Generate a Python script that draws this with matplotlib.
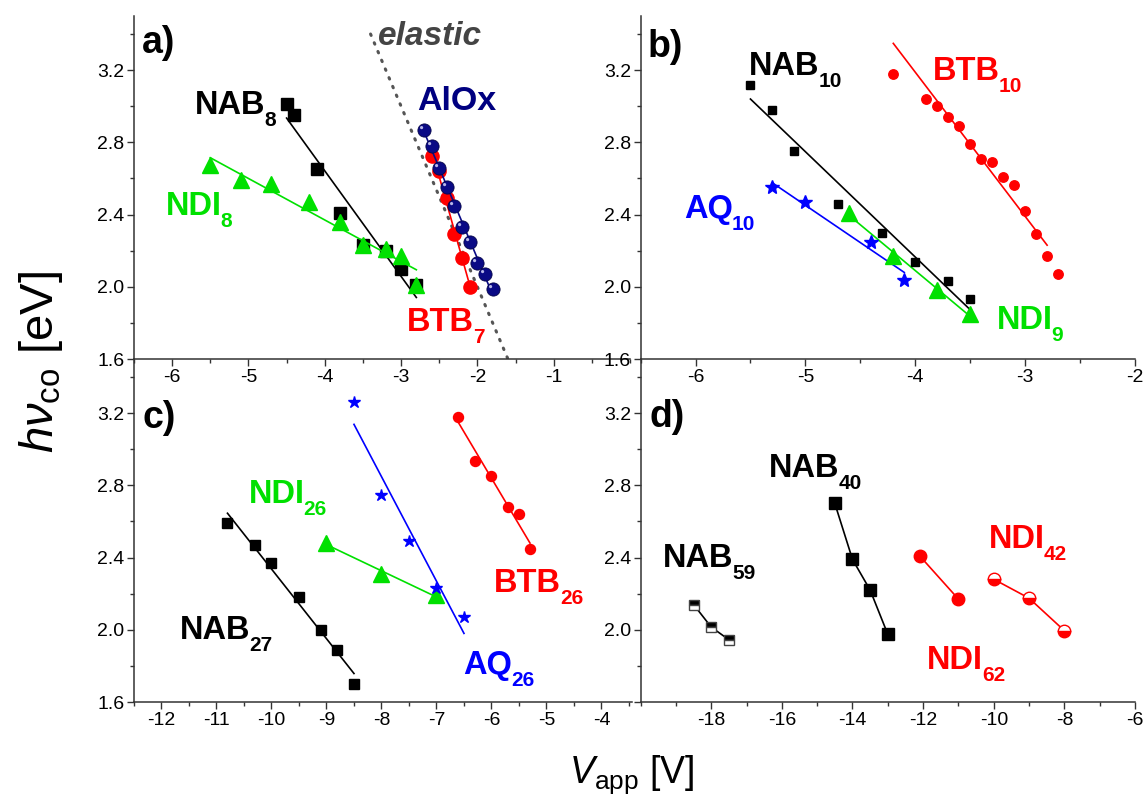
import numpy as np
import matplotlib
matplotlib.use("Agg")
import matplotlib.pyplot as plt
from matplotlib.path import Path
from matplotlib.ticker import MultipleLocator

# ============================================================
# Fonts: Arial-like text everywhere.
# ============================================================

plt.rcParams["font.family"] = ["Liberation Sans", "DejaVu Sans"]
plt.rcParams["mathtext.fontset"] = "custom"
plt.rcParams["mathtext.rm"] = "Liberation Sans"
plt.rcParams["mathtext.it"] = "Liberation Sans:italic"
plt.rcParams["mathtext.bf"] = "Liberation Sans:bold"

# ============================================================
# Cut-off photon energy vs applied bias, per junction.
# ============================================================

# a) short molecules + bare AlOx
nab8_v = [-4.5, -4.4, -4.1, -3.8, -3.5, -3.2, -3.0, -2.8]
nab8_e = [3.01, 2.95, 2.65, 2.41, 2.23, 2.20, 2.10, 2.01]
ndi8_v = [-5.5, -5.1, -4.7, -4.2, -3.8, -3.5, -3.2, -3.0, -2.8]
ndi8_e = [2.675, 2.59, 2.57, 2.47, 2.36, 2.23, 2.21, 2.17, 2.01]
alox_v = [-2.7, -2.6, -2.5, -2.4, -2.3, -2.2, -2.1, -2.0, -1.9, -1.8]
alox_e = [2.87, 2.78, 2.66, 2.55, 2.45, 2.33, 2.25, 2.13, 2.07, 1.99]
btb7_v = [-2.6, -2.5, -2.4, -2.3, -2.2, -2.1]
btb7_e = [2.725, 2.64, 2.49, 2.29, 2.16, 2.00]
elastic_v = [-3.4, -1.6]

# b) ~10 nm layers
nab10_v = [-5.5, -5.3, -5.1, -4.7, -4.3, -4.0, -3.7, -3.5]
nab10_e = [3.12, 2.98, 2.75, 2.46, 2.30, 2.14, 2.03, 1.93]
btb10_v = [-4.2, -3.9, -3.8, -3.7, -3.6, -3.5, -3.4, -3.3, -3.2, -3.1,
           -3.0, -2.9, -2.8, -2.7]
btb10_e = [3.18, 3.04, 3.00, 2.94, 2.89, 2.79, 2.71, 2.69, 2.61, 2.565,
           2.42, 2.29, 2.17, 2.07]
aq10_v = [-5.3, -5.0, -4.4, -4.1]
aq10_e = [2.55, 2.47, 2.25, 2.04]
ndi9_v = [-4.6, -4.2, -3.8, -3.5]
ndi9_e = [2.41, 2.17, 1.98, 1.85]

# c) ~26 nm layers
nab27_v = [-10.8, -10.3, -10.0, -9.5, -9.1, -8.8, -8.5]
nab27_e = [2.59, 2.47, 2.37, 2.18, 2.00, 1.89, 1.70]
ndi26_v = [-9.0, -8.0, -7.0]
ndi26_e = [2.48, 2.31, 2.19]
aq26_v = [-8.5, -8.0, -7.5, -7.0, -6.5]
aq26_e = [3.26, 2.745, 2.49, 2.23, 2.07]
btb26_v = [-6.6, -6.3, -6.0, -5.7, -5.5, -5.3]
btb26_e = [3.18, 2.935, 2.85, 2.68, 2.64, 2.445]

# d) thick layers
nab59_v = [-18.5, -18.0, -17.5]
nab59_e = [2.14, 2.015, 1.945]
nab40_v = [-14.5, -14.0, -13.5, -13.0]
nab40_e = [2.70, 2.39, 2.22, 1.975]
ndi62_v = [-12.1, -11.0]
ndi62_e = [2.41, 2.17]
ndi42_v = [-10.0, -9.0, -8.0]
ndi42_e = [2.28, 2.175, 1.995]

GREEN = "#00e000"
RED = "#ff0000"
BLUE = "#0000ff"
NAVY = "#0a0a85"


# ============================================================
# Helpers.
# ============================================================

def series(ax, v, e, color, marker, ms, line="fit", fit_from=0, span=None,
           lw=1.2, z=3, **kw):
    v = np.asarray(v, dtype=float)
    e = np.asarray(e, dtype=float)
    if line == "fit":
        k, b = np.polyfit(v[fit_from:], e[fit_from:], 1)
        lo, hi = span if span else (v.min(), v.max())
        xs = np.array([lo, hi])
        ax.plot(xs, k * xs + b, color=color, lw=lw, zorder=z - 1)
    elif line == "connect":
        ax.plot(v, e, color=color, lw=lw, zorder=z - 1)
    ax.plot(v, e, ls="none", marker=marker, ms=ms, color=color, zorder=z, **kw)


def label(ax, x, y, name, sub, color, size=23.5, sub_size=15):
    # name on its baseline, subscript tucked below it
    t = ax.text(x, y, name, color=color, fontsize=size, fontweight="bold",
                ha="left", va="baseline", zorder=5)
    ax.annotate(sub, xy=(1, 0), xycoords=t, xytext=(-1, -3.6),
                textcoords="offset points", color=color, fontsize=sub_size,
                fontweight="bold", ha="left", va="baseline", zorder=5)


def style(ax, xlim, xticks, xminor, ylabels):
    ax.set_facecolor("none")
    ax.set_xlim(*xlim)
    ax.set_ylim(1.6, 3.5)
    ax.set_xticks(xticks)
    ax.set_xticklabels([f"{t:g}" for t in xticks])
    ax.xaxis.set_minor_locator(MultipleLocator(xminor))
    ax.set_yticks([1.6, 2.0, 2.4, 2.8, 3.2])
    ax.set_yticklabels(ylabels)
    ax.yaxis.set_minor_locator(MultipleLocator(0.2))
    for side in ("top", "right"):
        ax.spines[side].set_visible(False)
    for side in ("left", "bottom"):
        ax.spines[side].set_color("#333333")
        ax.spines[side].set_linewidth(1.1)
    ax.tick_params(which="both", direction="out", color="#333333",
                   labelsize=14, pad=2)
    ax.tick_params(which="major", length=5, width=1)
    ax.tick_params(which="minor", length=3, width=1)


def panel_tag(ax, x, y, text):
    ax.text(x, y, text, transform=ax.transAxes, fontsize=27,
            fontweight="bold", ha="left", va="baseline")


# sphere look for the AlOx points: a small highlight in the upper left
glint = Path.circle(center=(-0.22, 0.22), radius=0.12)
glint = Path(np.vstack([glint.vertices, [[0.5, 0.5], [-0.5, -0.5]]]),
             np.concatenate([glint.codes, [Path.MOVETO, Path.MOVETO]]))

yl = ["1.6", "2.0", "2.4", "2.8", "3.2"]

fig = plt.figure(figsize=(11.48, 7.98), dpi=100)
ax_a = fig.add_axes([0.1167, 0.5501, 0.4321, 0.4299])
ax_b = fig.add_axes([0.5580, 0.5501, 0.4307, 0.4299])
ax_c = fig.add_axes([0.1167, 0.1203, 0.4336, 0.4298])
ax_d = fig.add_axes([0.5580, 0.1203, 0.4307, 0.4298])


# ============================================================
# a) NAB8, NDI8, AlOx, BTB7 and the elastic limit.
# ============================================================

ev = np.array(elastic_v)
ax_a.plot(ev, -ev, color="#555555", lw=2.2, ls=(0, (0.5, 2.6)),
          dash_capstyle="round", zorder=1)
ax_a.text(-3.30, 3.338, "elastic", color="#444444", fontsize=24,
          fontstyle="italic", fontweight="bold", ha="left", va="baseline")

series(ax_a, nab8_v, nab8_e, "black", "s", 8.6)
series(ax_a, ndi8_v, ndi8_e, GREEN, "^", 11, z=4)
series(ax_a, btb7_v, btb7_e, RED, "o", 9.5, z=5)
series(ax_a, alox_v, alox_e, NAVY, "o", 9.5, z=6, mec="#05054a", mew=0.6)
ax_a.plot(alox_v, alox_e, ls="none", marker=glint, ms=9.5, mfc="#b8b8e8",
          mec="none", zorder=7)

label(ax_a, -5.70, 2.955, "NAB", "8", "black")
label(ax_a, -6.08, 2.40, "NDI", "8", GREEN)
label(ax_a, -2.92, 1.755, "BTB", "7", RED)
ax_a.text(-2.79, 2.98, "AlOx", color="#000080", fontsize=24.5,
          fontweight="bold", ha="left", va="baseline")

style(ax_a, (-6.5, 0), list(range(-6, 0)), 0.5, yl)
panel_tag(ax_a, 0.016, 0.892, "a)")


# ============================================================
# b) NAB10, BTB10, AQ10, NDI9.
# ============================================================

series(ax_b, nab10_v, nab10_e, "black", "s", 6)
series(ax_b, btb10_v, btb10_e, RED, "o", 6.8, fit_from=1, span=(-4.2, -2.8))
series(ax_b, aq10_v, aq10_e, BLUE, "*", 10)
series(ax_b, ndi9_v, ndi9_e, GREEN, "^", 11)

label(ax_b, -5.51, 3.172, "NAB", "10", "black")
label(ax_b, -3.84, 3.145, "BTB", "10", RED)
label(ax_b, -6.10, 2.38, "AQ", "10", BLUE)
label(ax_b, -3.26, 1.764, "NDI", "9", GREEN)

style(ax_b, (-6.5, -2), list(range(-6, -1)), 0.5, yl)
panel_tag(ax_b, 0.015, 0.881, "b)")


# ============================================================
# c) NAB27, NDI26, AQ26, BTB26.
# ============================================================

series(ax_c, nab27_v, nab27_e, "black", "s", 6.7)
series(ax_c, ndi26_v, ndi26_e, GREEN, "^", 11)
series(ax_c, aq26_v, aq26_e, BLUE, "*", 9)
series(ax_c, btb26_v, btb26_e, RED, "o", 7.2)

label(ax_c, -10.42, 2.70, "NDI", "26", GREEN)
label(ax_c, -11.66, 1.951, "NAB", "27", "black")
label(ax_c, -5.95, 2.209, "BTB", "26", RED)
label(ax_c, -6.51, 1.754, "AQ", "26", BLUE)

style(ax_c, (-12.5, -3.45), list(range(-12, -3)), 0.5, yl)
panel_tag(ax_c, 0.018, 0.799, "c)")


# ============================================================
# d) NAB59, NAB40, NDI62, NDI42.
# ============================================================

series(ax_d, nab59_v, nab59_e, "black", "s", 7.7, line="connect",
       fillstyle="top", mfc="black", markerfacecoloralt="white",
       mec="#444444", mew=1)
series(ax_d, nab40_v, nab40_e, "black", "s", 8.6, line="connect")
series(ax_d, ndi62_v, ndi62_e, RED, "o", 9, line="connect")
series(ax_d, ndi42_v, ndi42_e, RED, "o", 9, line="connect",
       fillstyle="bottom", mfc=RED, markerfacecoloralt="white",
       mec=RED, mew=1)

label(ax_d, -16.36, 2.844, "NAB", "40", "black")
label(ax_d, -19.37, 2.347, "NAB", "59", "black")
label(ax_d, -10.14, 2.452, "NDI", "42", RED)
label(ax_d, -11.88, 1.782, "NDI", "62", RED)

style(ax_d, (-20, -6), list(range(-18, -5, 2)), 1, [""] + yl[1:])
panel_tag(ax_d, 0.019, 0.802, "d)")


# ============================================================
# Shared axis titles.
# ============================================================

fig.text(0.036, 1 - 362 / 798, r"$h\nu_{\mathrm{co}}$ [eV]", fontsize=34,
         rotation=90, ha="center", va="center")
fig.text(632 / 1148, 1 - 783 / 798, r"$V_{\mathrm{app}}$ [V]", fontsize=27,
         ha="center", va="baseline")

fig.savefig("out.png", dpi=100)
